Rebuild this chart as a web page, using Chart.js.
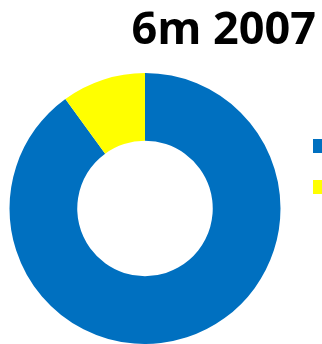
<!DOCTYPE html>
<html><head><meta charset="utf-8">
<script src="https://cdn.jsdelivr.net/npm/chart.js@4"></script>
<style>html,body{margin:0;padding:0;background:#fff;overflow:hidden}
#wrap{position:relative;width:322px;height:344px}</style>
</head><body><div id="wrap"><canvas id="c"></canvas></div>
<script>
const titleText = '6m 2007';
const categories = ['', ''];
const shareValues = [90, 10];
const sliceColors = ['#0070C0', '#FFFF00'];

// keep the title's right edge 6px in from the canvas edge while the legend runs to the edge
const titleInset = {
  id: 'titleInset',
  afterLayout(chart) {
    if (chart.titleBlock) {
      chart.titleBlock.right -= 6;
      chart.titleBlock.width -= 6;
    }
  }
};

new Chart(document.getElementById('c'), {
  type: 'doughnut',
  data: {
    labels: categories,
    datasets: [{ data: shareValues, backgroundColor: sliceColors, borderWidth: 0, hoverOffset: 0 }]
  },
  plugins: [titleInset],
  options: {
    responsive: true, maintainAspectRatio: false, animation: false,
    devicePixelRatio: 1,
    cutout: '50%',
    events: [],
    layout: { padding: 0 },
    plugins: {
      title: {
        display: true, text: titleText, align: 'end', color: '#000',
        font: { family: 'Open Sans', size: 45, weight: 'bold', lineHeight: 1.2 },
        padding: { top: 4, bottom: 15 }
      },
      legend: {
        position: 'right', align: 'start', maxWidth: 32,
        title: { display: true, text: '', padding: 0, font: { size: 10, lineHeight: '114px' } },
        labels: { boxWidth: 14, boxHeight: 14, padding: 23, font: { size: 18 } }
      },
      tooltip: { enabled: false }
    }
  }
});
</script></body></html>
